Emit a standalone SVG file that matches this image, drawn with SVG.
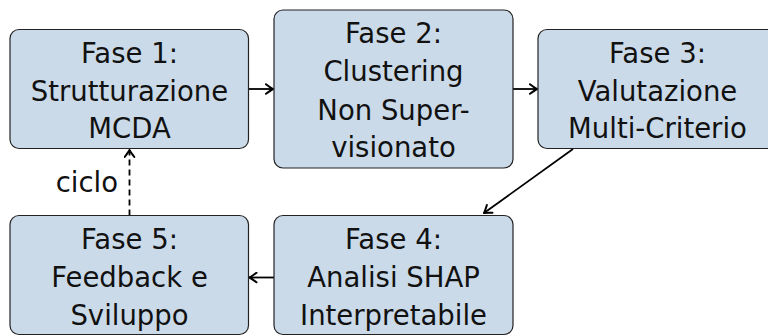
<svg xmlns="http://www.w3.org/2000/svg" width="768" height="336" viewBox="0 0 768 336">
  <style>
    .box { fill: #cbdae8; stroke: #222; stroke-width: 1.2; }
    .lbl { font-family: "DejaVu Sans", "Liberation Sans", sans-serif; font-size: 27.5px; fill: #111; text-anchor: middle; }
    .edge { fill: none; stroke: #000; stroke-width: 1.8; }
    .dashed { stroke-dasharray: 6 4; }
  </style>
  <defs>
    <marker id="arr" viewBox="-9 -6 11 12" markerWidth="11" markerHeight="12" refX="0" refY="0" orient="auto" markerUnits="userSpaceOnUse">
      <path d="M -7 -4.8 Q -2 -1 0 0 Q -2 1 -7 4.8" fill="none" stroke="#000" stroke-width="2" stroke-linecap="round" stroke-linejoin="round"/>
    </marker>
  </defs>
  <rect width="768" height="336" fill="#fff"/>

  <g id="connectors">
    <path class="edge" d="M248.5 89 L273 89" marker-end="url(#arr)"/>
    <path class="edge" d="M513 89 L537 89" marker-end="url(#arr)"/>
    <path class="edge" d="M573 149 L484 213" marker-end="url(#arr)"/>
    <path class="edge" d="M274 277.5 L249.5 277.5" marker-end="url(#arr)"/>
    <path class="edge dashed" d="M129.5 215.5 L129.5 150" marker-end="url(#arr)"/>
    <text class="lbl" x="118" y="192" style="text-anchor:end">ciclo</text>
  </g>

  <g id="fase1">
    <rect class="box" x="10" y="29.5" width="238.5" height="119" rx="9"/>
    <text class="lbl" x="129.5" y="63">Fase 1:</text>
    <text class="lbl" x="129.5" y="100.5">Strutturazione</text>
    <text class="lbl" x="129.5" y="138">MCDA</text>
  </g>

  <g id="fase2">
    <rect class="box" x="274" y="10" width="239" height="158" rx="9"/>
    <text class="lbl" x="393.5" y="42.5">Fase 2:</text>
    <text class="lbl" x="393.5" y="81">Clustering</text>
    <text class="lbl" x="393.5" y="119.5">Non Super-</text>
    <text class="lbl" x="393.5" y="157">visionato</text>
  </g>

  <g id="fase3">
    <rect class="box" x="538" y="29.5" width="239" height="119" rx="9"/>
    <text class="lbl" x="657.5" y="63">Fase 3:</text>
    <text class="lbl" x="657.5" y="100.5">Valutazione</text>
    <text class="lbl" x="657.5" y="138">Multi-Criterio</text>
  </g>

  <g id="fase4">
    <rect class="box" x="274" y="215.5" width="239" height="119" rx="9"/>
    <text class="lbl" x="393.5" y="249">Fase 4:</text>
    <text class="lbl" x="393.5" y="287">Analisi SHAP</text>
    <text class="lbl" x="393.5" y="325">Interpretabile</text>
  </g>

  <g id="fase5">
    <rect class="box" x="10" y="215.5" width="238.5" height="119" rx="9"/>
    <text class="lbl" x="129.5" y="249">Fase 5:</text>
    <text class="lbl" x="129.5" y="287">Feedback e</text>
    <text class="lbl" x="129.5" y="325">Sviluppo</text>
  </g>
</svg>
